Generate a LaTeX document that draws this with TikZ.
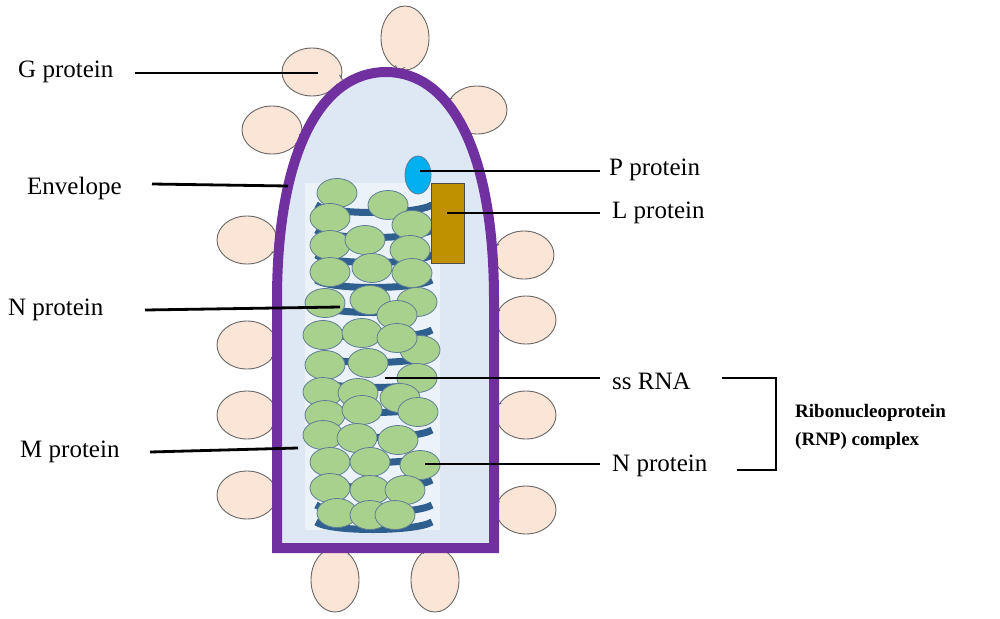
\documentclass[tikz,border=0pt]{standalone}
\usepackage{fontspec}
\usetikzlibrary{shapes.geometric}
\setmainfont{Liberation Serif}
\begin{document}
\begin{tikzpicture}[x=1pt,y=-1pt,
  lab/.style={font=\fontsize{25}{28}\selectfont,inner sep=0pt},
  lead/.style={line width=2.8pt,black},
  gp/.style={fill=gfill,draw=gray!80!black,line width=0.9pt},
  np/.style={fill=ngreen,draw=nedge,line width=0.8pt},
  coil/.style={draw=coilblue,line width=7pt}]
\definecolor{gfill}{HTML}{FBE5D6}
\definecolor{env}{HTML}{7030A0}
\definecolor{inner}{HTML}{DEE8F5}
\definecolor{ngreen}{HTML}{A9D18E}
\definecolor{nedge}{HTML}{5E7E96}
\definecolor{coilblue}{HTML}{2E5F8E}
\definecolor{pblue}{HTML}{00B0F0}
\definecolor{lgold}{HTML}{BF9000}
\useasboundingbox (0,0) rectangle (1000,618);
% G proteins: center, rx, ry, tail point
\foreach \cx/\cy/\rx/\ry/\tx/\ty in {312/72/30/24/345/84, 405/38/24/32/398/70, 477/110/30/24/446/100, 272/130/30/24/307/145, 247/240/30/24/281/252, 524/255/30/24/495/247, 247/345/30/24/278/357, 526/320/30/24/495/313, 247/415/30/24/278/427, 526/415/30/24/495/405, 247/495/30/24/278/502, 526/510/30/24/495/505, 335/580/24/32/348/549, 435/580/24/32/425/549}{
  \node[gp,ellipse,minimum width=2*\rx,minimum height=2*\ry,inner sep=0pt] at (\cx,\cy) {};
  \pgfmathsetmacro{\dd}{veclen(\tx-\cx,\ty-\cy)}
  \pgfmathsetmacro{\ux}{(\tx-\cx)/\dd}
  \pgfmathsetmacro{\uy}{(\ty-\cy)/\dd}
  \pgfmathsetmacro{\bx}{\cx+0.85*\ux*\rx}
  \pgfmathsetmacro{\by}{\cy+0.85*\uy*\ry}
  \fill[gfill] ({\bx-5*\uy},{\by+5*\ux}) -- (\tx,\ty) -- ({\bx+5*\uy},{\by-5*\ux}) -- cycle;
  \draw[gray!80!black,line width=0.9pt] ({\bx-5*\uy+2*\ux},{\by+5*\ux+2*\uy}) -- (\tx,\ty) -- ({\bx+5*\uy+2*\ux},{\by-5*\ux+2*\uy});
}
% envelope
\draw[env,line width=10pt,fill=inner] (277,548) -- (277,300) .. controls (277,150) and (322,72) .. (386,72) .. controls (450,72) and (494,150) .. (494,300) -- (494,548) -- cycle;
\fill[white,opacity=0.45] (305,183) rectangle (440,530);
% coil
\foreach \y in {205,230,255,280,305,330,355,380,405,430,455,480,505,522}{
  \draw[coil] (316,\y) .. controls (330,\y+10) and (415,\y+10) .. (432,\y);
}
% N proteins
\foreach \x/\y in {337/193,388/205,330/218,412/225,330/245,365/240,410/250,330/272,372/268,412/273,325/303,370/300,417/302,397/315,323/335,362/333,420/350,397/338,325/365,368/363,417/378,323/392,358/393,400/398,325/415,362/410,418/412,323/435,357/438,398/440,330/462,370/462,420/465,330/488,370/490,405/490,337/513,370/515,395/515}{
  \node[np,ellipse,minimum width=40,minimum height=29,inner sep=0pt] at (\x,\y) {};
}
% P and L
\node[ellipse,fill=pblue,draw=nedge,line width=0.8pt,minimum width=26,minimum height=38,inner sep=0pt] (P) at (418,175) {};
\node[fill=lgold,draw=gray!60!black,line width=0.8pt,minimum width=33,minimum height=80,inner sep=0pt] (L) at (448,223) {};
% labels
\node[lab,anchor=west] (tG) at (18,72) {G protein};
\node[lab,anchor=west] (tE) at (27,188) {Envelope};
\node[lab,anchor=west] (tN1) at (8,310) {N protein};
\node[lab,anchor=west] (tM) at (20,452) {M protein};
\node[lab,anchor=west] (tP) at (609,170) {P protein};
\node[lab,anchor=west] (tL) at (612,213) {L protein};
\node[lab,anchor=west] (tR) at (612,381) {ss RNA};
\node[lab,anchor=west] (tN2) at (612,466) {N protein};
\coordinate (eG) at (318,73); \coordinate (eE) at (288,186);
\coordinate (eN1) at (340,307); \coordinate (eM) at (298,448);
\coordinate (eP) at (420,171); \coordinate (eL) at (447,213);
\coordinate (eR) at (385,378); \coordinate (eN2) at (425,464);
\draw[lead] (135,73) -- (eG);
\draw[lead] (152,184) -- (eE);
\draw[lead] (145,310) -- (eN1);
\draw[lead] (150,452) -- (eM);
\draw[lead] (eP) -- (600,171);
\draw[lead] (eL) -- (600,213);
\draw[lead] (eR) -- (600,378);
\draw[lead] (eN2) -- (600,464);
\draw[line width=2pt] (722,378) -- (776,378) -- (776,470) -- (737,470);
\node[font=\bfseries\fontsize{19}{22}\selectfont,anchor=west,inner sep=0pt] (rnp1) at (795,413) {Ribonucleoprotein};
\node[font=\bfseries\fontsize{19}{22}\selectfont,anchor=west,inner sep=0pt] (rnp2) at (795,441) {(RNP) complex};
\end{tikzpicture}
\end{document}
